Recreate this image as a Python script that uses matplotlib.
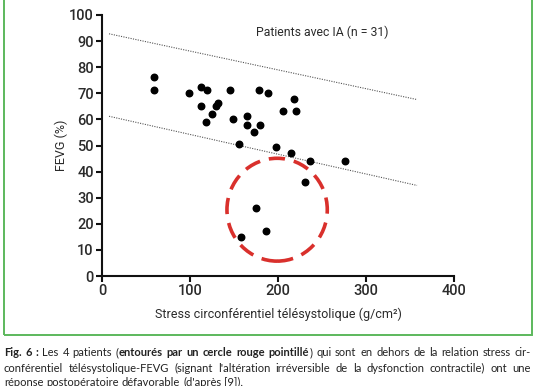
import matplotlib
matplotlib.use('Agg')
import matplotlib.pyplot as plt
from matplotlib.patches import Ellipse, Rectangle

# données
stress = [59.5, 59.5, 98.9, 112.5, 118.9, 112.5, 117.8, 124.6, 129.2, 132.2,
          145.1, 148.5, 155.3, 164.8, 164.8, 172.7, 178.4, 179.2, 189.0, 198.1,
          205.3, 214.4, 217.8, 220.8, 236.0, 276.1, 231.1, 175.4, 186.0, 158.3]
fevg = [76.2, 71.1, 70.1, 72.3, 71.1, 65.1, 58.9, 61.9, 65.1, 66.2,
        71.1, 60.0, 50.6, 61.2, 57.9, 55.0, 71.1, 57.9, 70.1, 49.4,
        63.1, 47.1, 67.8, 63.1, 44.1, 44.1, 36.0, 25.9, 17.2, 14.9]
line_x = [8, 358]
upper_y = [92.8, 67.6]
lower_y = [61.2, 34.7]
circle_center = (199, 25.4)
circle_w, circle_h = 114, 39.4
xticks = [0, 100, 200, 300, 400]
yticks = list(range(0, 101, 10))

caption = [
    [("Fig. 6 : ", True), ("Les 4 patients (", False), ("entourés par un cercle rouge pointillé", True),
     (") qui sont en dehors de la relation stress cir-", False)],
    [("conférentiel télésystolique-FEVG (signant l'altération irréversible de la dysfonction contractile) ont une", False)],
    [("réponse postopératoire défavorable (d'après [9]).", False)],
]

fig = plt.figure(figsize=(5.36, 3.86), dpi=100)
W, H = 536, 386
ax = fig.add_axes([102 / W, 1 - 276 / H, (454 - 102) / W, (276 - 15) / H])

txt = '#2b2b2b'
ax.scatter(stress, fevg, s=22, color='black', zorder=3)
ax.plot(line_x, upper_y, ls=(0, (1, 1.2)), color='#555555', lw=0.8)
ax.plot(line_x, lower_y, ls=(0, (1, 1.2)), color='#555555', lw=0.8)
ax.add_patch(Ellipse(circle_center, circle_w, circle_h, fill=False,
                     edgecolor='#d9302c', lw=2.6, ls=(0, (4.5, 2.5))))

ax.set_xlim(0, 400)
ax.set_ylim(0, 100)
ax.set_xticks(xticks)
ax.set_yticks(yticks)
for s in ['top', 'right']:
    ax.spines[s].set_visible(False)
for s in ['left', 'bottom']:
    ax.spines[s].set_linewidth(1.5)
    ax.spines[s].set_color('#111111')
ax.tick_params(direction='out', length=4, width=1.5, color='#111111',
               labelsize=10.5, labelcolor=txt, pad=2)
for lab in ax.get_xticklabels() + ax.get_yticklabels():
    lab.set_family('Roboto')
    lab.set_fontweight('medium')

ax.set_xlabel('Stress circonférentiel télésystolique (g/cm²)', fontsize=9,
              family='Roboto', color=txt, labelpad=7)
ax.set_ylabel('FEVG (%)', fontsize=9, family='Roboto', color=txt, labelpad=1)
ax.text(322 / W, 1 - 32 / H, 'Patients avec IA (n = 31)', transform=fig.transFigure,
        ha='center', va='center', fontsize=8.8, family='Roboto', color=txt)

# cadre vert
fig.patches.append(Rectangle((4 / W, 1 - 335 / H), (532 - 4) / W, 340 / H,
                             transform=fig.transFigure, fill=False,
                             edgecolor='#5cb85c', lw=1.4))

# légende justifiée : chaque mot = liste de morceaux (texte, gras)
renderer = fig.canvas.get_renderer()
left, right = 4, 531
line_y = [353, 368, 382]
fs = 8.0
space = 3.0
for i, segs in enumerate(caption):
    words = [[]]
    for t, bold in segs:
        parts = t.split(' ')
        for k, p in enumerate(parts):
            if k > 0:
                words.append([])
            if p:
                words[-1].append((p, bold))
    words = [w for w in words if w]
    placed = []
    total = 0
    for w in words:
        pieces = []
        wd = 0
        for p, bold in w:
            o = fig.text(0, 1 - line_y[i] / H, p, fontsize=fs, family='Lato',
                         fontweight='bold' if bold else 'normal', color='#222222',
                         va='center')
            pw = o.get_window_extent(renderer).width
            pieces.append((o, pw))
            wd += pw
        placed.append((pieces, wd))
        total += wd
    if i < len(caption) - 1:
        gap = (right - left - total) / (len(placed) - 1)
    else:
        gap = space
    x = left
    for pieces, wd in placed:
        for o, pw in pieces:
            o.set_x(x / W)
            x += pw
        x += gap

fig.savefig('out.png', dpi=100)
